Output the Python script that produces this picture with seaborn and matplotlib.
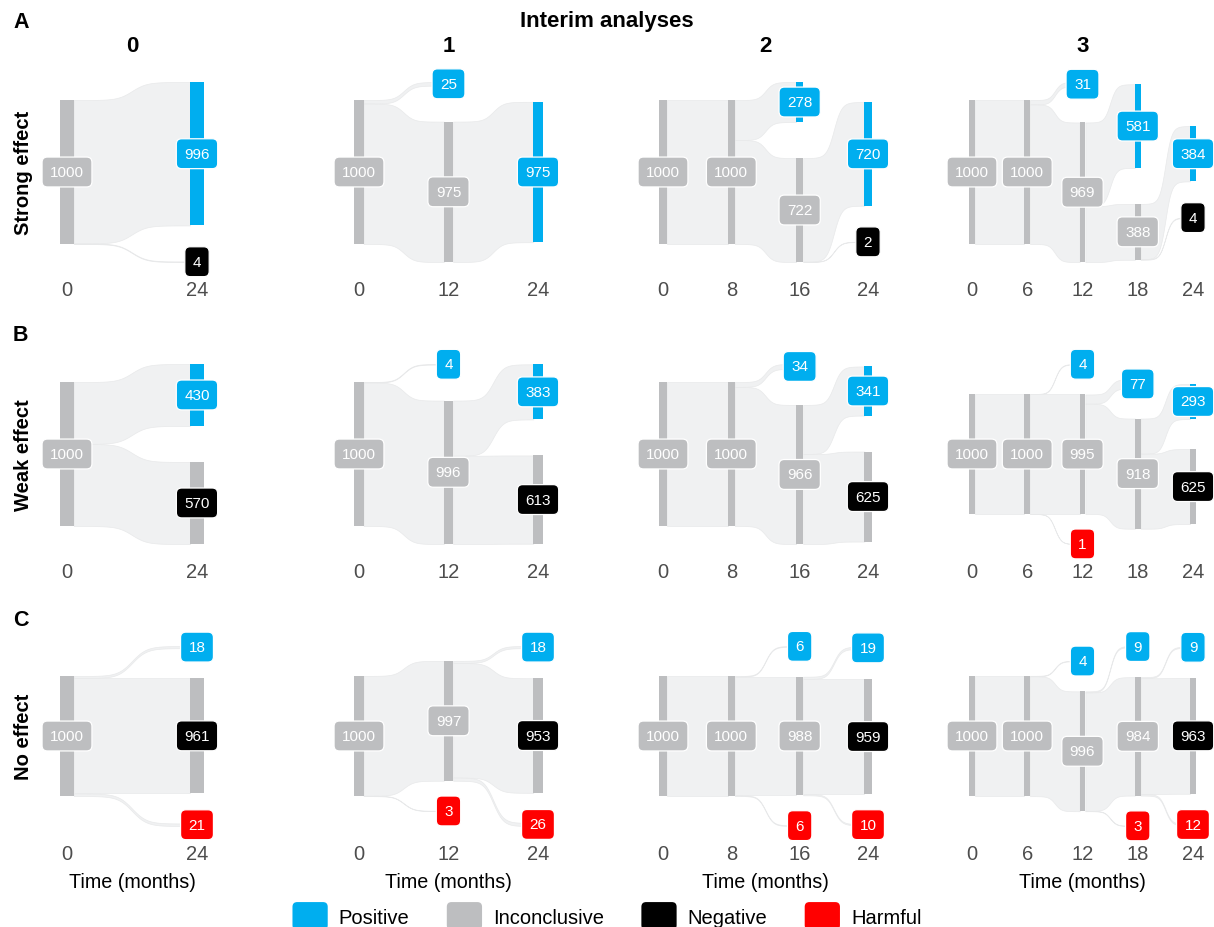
import numpy as np
import matplotlib
matplotlib.use("Agg")
import matplotlib.pyplot as plt
import seaborn as sns
from matplotlib.patches import FancyBboxPatch, Patch
from matplotlib.legend_handler import HandlerPatch

# ---------------------------------------------------------------------------
# Data: number of trials (out of 1000) in each status at each analysis time
# ---------------------------------------------------------------------------
# analysis times (months) for 0, 1, 2 and 3 interim analyses
times_0 = [0, 24]
times_1 = [0, 12, 24]
times_2 = [0, 8, 16, 24]
times_3 = [0, 6, 12, 18, 24]
interim_times = [times_0, times_1, times_2, times_3]
interim_labels = ["0", "1", "2", "3"]

effects = ["Strong effect", "Weak effect", "No effect"]
effect_tags = ["A", "B", "C"]
statuses = ["Positive", "Inconclusive", "Negative", "Harmful"]

# Strong effect
strong_positive = [[0, 996], [0, 25, 975], [0, 0, 278, 720], [0, 0, 31, 581, 384]]
strong_inconclusive = [[1000, 0], [1000, 975, 0], [1000, 1000, 722, 0], [1000, 1000, 969, 388, 0]]
strong_negative = [[0, 4], [0, 0, 0], [0, 0, 0, 2], [0, 0, 0, 0, 4]]
strong_harmful = [[0, 0], [0, 0, 0], [0, 0, 0, 0], [0, 0, 0, 0, 0]]

# Weak effect
weak_positive = [[0, 430], [0, 4, 383], [0, 0, 34, 341], [0, 0, 4, 77, 293]]
weak_inconclusive = [[1000, 0], [1000, 996, 0], [1000, 1000, 966, 0], [1000, 1000, 995, 918, 0]]
weak_negative = [[0, 570], [0, 0, 613], [0, 0, 0, 625], [0, 0, 0, 0, 625]]
weak_harmful = [[0, 0], [0, 0, 0], [0, 0, 0, 0], [0, 0, 1, 0, 0]]

# No effect
null_positive = [[0, 18], [0, 0, 18], [0, 0, 6, 19], [0, 0, 4, 9, 9]]
null_inconclusive = [[1000, 0], [1000, 997, 0], [1000, 1000, 988, 0], [1000, 1000, 996, 984, 0]]
null_negative = [[0, 961], [0, 0, 953], [0, 0, 0, 959], [0, 0, 0, 0, 963]]
null_harmful = [[0, 21], [0, 3, 26], [0, 0, 6, 10], [0, 0, 0, 3, 12]]

effect_counts = [
    [strong_positive, strong_inconclusive, strong_negative, strong_harmful],
    [weak_positive, weak_inconclusive, weak_negative, weak_harmful],
    [null_positive, null_inconclusive, null_negative, null_harmful],
]

# ---------------------------------------------------------------------------
# Style
# ---------------------------------------------------------------------------
label_colors = {"Positive": "#00AEEF", "Inconclusive": "#BDBEC0",
                "Negative": "#000000", "Harmful": "#FF0000"}
bar_colors = {"Positive": "#00AEEF", "Inconclusive": "#BDBEC0",
              "Negative": "#BDBEC0", "Harmful": "#BDBEC0"}
flow_fill = "#F0F1F2"
flow_edge = "#E8E9EA"
tick_color = "#4D4D4D"

node_gap = 250        # vertical space between stacked nodes (trial units)
node_width = 0.105    # node bar width (x units)
x_margin = 0.45       # horizontal padding of each panel (x units)

FW, FH = 1214, 928
col_first_px = [67, 359, 663, 972]
col_last_px = [197, 538, 868, 1193]
row_center_px = [173, 455, 737]
half_px = 100
stack_half_px = 90
tick_pad = [6.0, 6.0, 6.0]

sns.set_theme(style="white")
plt.rcParams["font.family"] = ["Liberation Sans", "DejaVu Sans"]
plt.rcParams["text.color"] = "black"

fig = plt.figure(figsize=(FW / 100, FH / 100), dpi=100)
fig.patch.set_facecolor("white")


def fx(px):
    return px / FW


def fy(py):
    return 1 - py / FH


def stack(values_at_t):
    """Stack present nodes top to bottom, centred on zero."""
    present = [(s, v) for s, v in zip(statuses, values_at_t) if v > 0]
    total = sum(v for _, v in present) + node_gap * (len(present) - 1)
    top = total / 2
    nodes = []
    for s, v in present:
        nodes.append((s, v, top - v, top))
        top -= v + node_gap
    return nodes, total


def sigmoid_band(x0, x1, a_lo, a_hi, b_lo, b_hi, smooth=8, n=200):
    u = np.linspace(-smooth, smooth, n)
    w = 1 / (1 + np.exp(-u))
    w = (w - w[0]) / (w[-1] - w[0])
    xs = x0 + (u + smooth) / (2 * smooth) * (x1 - x0)
    return xs, a_lo + w * (b_lo - a_lo), a_hi + w * (b_hi - a_hi)


for r, counts in enumerate(effect_counts):
    for c, times in enumerate(interim_times):
        n = len(times)
        per_time = [[counts[k][c][i] for k in range(4)] for i in range(n)]
        stacks = [stack(v) for v in per_time]
        max_total = max(t for _, t in stacks)

        spacing = (col_last_px[c] - col_first_px[c]) / (n - 1)
        left = col_first_px[c] - x_margin * spacing
        width = (n - 1 + 2 * x_margin) * spacing
        ax = fig.add_axes([fx(left), fy(row_center_px[r] + half_px),
                           fx(width), 2 * half_px / FH])
        rng = max_total / 2 * half_px / stack_half_px
        ax.set_xlim(-x_margin, n - 1 + x_margin)
        ax.set_ylim(-rng, rng)

        # flows from the inconclusive node to every node at the next time
        for i in range(n - 1):
            src = [nd for nd in stacks[i][0] if nd[0] == "Inconclusive"]
            if not src:
                continue
            src_top = src[0][3]
            used = 0
            for s, v, lo, hi in stacks[i + 1][0]:
                a_hi = src_top - used
                a_lo = a_hi - v
                used += v
                xs, ylo, yhi = sigmoid_band(i + node_width / 2, i + 1 - node_width / 2,
                                            a_lo, a_hi, lo, hi)
                ax.fill_between(xs, ylo, yhi, facecolor=flow_fill, edgecolor=flow_edge,
                                linewidth=0.5, zorder=1)

        # nodes and their count labels
        for i in range(n):
            for s, v, lo, hi in stacks[i][0]:
                ax.bar(i, v, bottom=lo, width=node_width, color=bar_colors[s],
                       linewidth=0, zorder=2)
                ax.text(i, (lo + hi) / 2, f"{v}", ha="center", va="center",
                        color="white", fontsize=11, zorder=4, clip_on=False,
                        bbox=dict(boxstyle="round,pad=0.52,rounding_size=0.35",
                                  fc=label_colors[s], ec="white", lw=0.9))

        ax.set_xticks(range(n))
        ax.set_xticklabels([str(t) for t in times])
        ax.set_yticks([])
        ax.tick_params(axis="x", length=0, pad=tick_pad[r], labelsize=14.5,
                       labelcolor=tick_color)
        sns.despine(ax=ax, left=True, bottom=True)
        ax.set_facecolor("none")

# column titles, row titles and panel tags
fig.text(fx(607), fy(22), "Interim analyses", ha="center", va="center",
         fontsize=16, fontweight="bold")
for c, lab in enumerate(interim_labels):
    cx = (col_first_px[c] + col_last_px[c]) / 2
    fig.text(fx(cx), fy(46), lab, ha="center", va="center", fontsize=16,
             fontweight="bold")
    fig.text(fx(cx), fy(883), "Time (months)", ha="center", va="center",
             fontsize=14.2)
for r, (lab, tag) in enumerate(zip(effects, effect_tags)):
    fig.text(fx(24), fy(row_center_px[r]), lab, ha="center", va="center",
             rotation=90, fontsize=14.5, fontweight="bold")
tag_y = [22, 336, 621]
for tag, ty in zip(effect_tags, tag_y):
    fig.text(fx(13), fy(ty), tag, ha="left", va="center", fontsize=15.5,
             fontweight="bold")


def rounded_key(legend, orig_handle, xdescent, ydescent, width, height, fontsize):
    return FancyBboxPatch((-xdescent, -ydescent), width, height,
                          boxstyle=f"round,pad=0,rounding_size={0.17 * height}")


handles = [Patch(facecolor=label_colors[s], edgecolor="none", label=s) for s in statuses]
fig.legend(handles=handles, loc="center", bbox_to_anchor=(fx(607), fy(917)),
           ncol=4, frameon=False, fontsize=14.5, handlelength=1.75,
           handleheight=1.75, handletextpad=0.55, columnspacing=1.85,
           borderpad=0, borderaxespad=0,
           handler_map={Patch: HandlerPatch(patch_func=rounded_key)})

fig.savefig("out.png", dpi=100, facecolor="white")
